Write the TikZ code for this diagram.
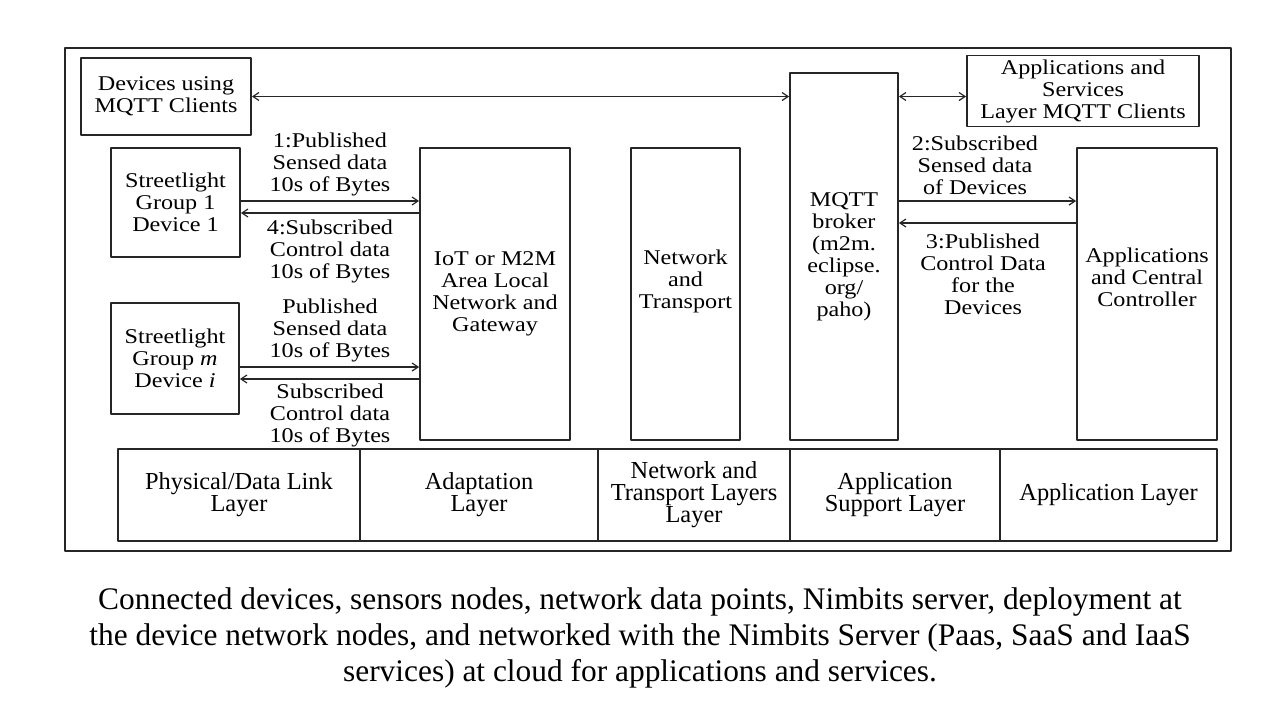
\documentclass[tikz,border=0pt]{standalone}
\usepackage{fontspec}
\setmainfont{Liberation Serif}
\newfontfamily\diagfont[FakeStretch=1.15]{Liberation Serif}
\usetikzlibrary{arrows.meta,positioning}
\tikzset{
  mq diagram/.style={x=0.5pt, y=-0.5pt, line cap=round, line join=round},
  mq box/.style={draw=black!85, line width=0.9pt, align=center, inner sep=2pt,
    font=\diagfont\fontsize{10.5}{11}\selectfont},
  mq text/.style={align=center, inner sep=1pt, font=\diagfont\fontsize{10.5}{11}\selectfont},
  mq layer/.style={draw=black!85, line width=0.9pt, align=center, minimum height=46pt,
    inner sep=2pt, font=\fontsize{12.2}{11}\selectfont},
  mq arrow/.style={-{Straight Barb[length=3pt,width=4pt]}, draw=black!85, line width=0.6pt},
  mq both/.style={mq arrow, {Straight Barb[length=3pt,width=4pt]}-{Straight Barb[length=3pt,width=4pt]}},
  mq caption/.style={align=center, font=\fontsize{15.7}{18}\selectfont}
}
\begin{document}
\begin{tikzpicture}[mq diagram]
\useasboundingbox (0,0) rectangle (1280,720);
\draw[draw=black!85, line width=0.9pt] (65,48) rectangle (1231,551);
% client boxes and the broker
\node[mq box, minimum width=85pt, minimum height=38.5pt] (devs) at (166,96.5) {Devices using\\MQTT Clients};
\node[mq box, minimum width=54pt, minimum height=183.5pt] (mqtt) at (844,256.5) {MQTT\\broker\\(m2m.\\eclipse.\\org/\\paho)};
\node[mq box, minimum width=116pt, minimum height=34pt] (asl) at (1083,91) {Applications and\\Services\\Layer MQTT Clients};
% streetlights and the path to the broker
\node[mq box, minimum width=64.5pt, minimum height=54.5pt] (sl1) at (175.5,202.5) {Streetlight\\Group 1\\Device 1};
\node[mq box, minimum width=64pt, minimum height=55.5pt] (slm) at (175,358.5) {Streetlight\\Group \textit{m}\\Device \textit{i}};
\node[mq box, minimum width=75pt, minimum height=146pt] (iot) at (495,294) {IoT or M2M\\Area Local\\Network and\\Gateway};
\node[mq box, minimum width=54.5pt, minimum height=146pt] (nat) at (685.5,294) {};
\node[mq text] (natT) at (685.5,281) {Network\\and\\Transport};
\node[mq box, minimum width=70pt, minimum height=146pt] (acc) at (1147,294) {};
\node[mq text] (accT) at (1147,277) {Applications\\and Central\\Controller};
% connectors
\draw[mq both] (devs.east) -- (devs.east -| mqtt.west);
\draw[mq both] (mqtt.east |- devs.east) -- (devs.east -| asl.west);
\path ([yshift=0.75pt]sl1.east) coordinate (pub1) ([yshift=-5.25pt]sl1.east) coordinate (sub1);
\path ([yshift=-4.25pt]slm.east) coordinate (pubm) ([yshift=-10.25pt]slm.east) coordinate (subm);
\draw[mq arrow] (pub1) -- (pub1 -| iot.west);
\draw[mq arrow] (sub1 -| iot.west) -- (sub1);
\draw[mq arrow] (pubm) -- (pubm -| iot.west);
\draw[mq arrow] (subm -| iot.west) -- (subm);
\path ([yshift=46.5pt]acc.west) coordinate (sub2) ([yshift=35.5pt]acc.west) coordinate (pub3);
\draw[mq arrow] (sub2 -| mqtt.east) -- (sub2);
\draw[mq arrow] (pub3) -- (pub3 -| mqtt.east);
% message labels
\node[mq text] (l1) at (330,164) {1:Published\\Sensed data\\10s of Bytes};
\node[mq text] (l4) at (330,251) {4:Subscribed\\Control data\\10s of Bytes};
\node[mq text] (lp) at (330,330) {Published\\Sensed data\\10s of Bytes};
\node[mq text] (ls) at (330,415) {Subscribed\\Control data\\10s of Bytes};
\node[mq text] (l2) at (975,165) {2:Subscribed\\Sensed data\\of Devices};
\node[mq text] (l3) at (983,274) {3:Published\\Control Data\\for the\\Devices};
% protocol layers
\node[mq layer, minimum width=121pt] (phy) at (239,495) {Physical/Data Link\\Layer};
\node[mq layer, minimum width=119pt] (adp) at (479,495) {Adaptation\\Layer};
\node[mq layer, minimum width=96pt] (ntl) at (694,495) {Network and\\Transport Layers\\Layer};
\node[mq layer, minimum width=105pt] (asup) at (895,495) {Application\\Support Layer};
\node[mq layer, minimum width=108.5pt] (app) at (1108.5,495) {Application Layer};
\node[mq caption] (cap) at (640,638) {Connected devices, sensors nodes, network data points, Nimbits server, deployment at\\the device network nodes, and networked with the Nimbits Server (Paas, SaaS and IaaS\\services) at cloud for applications and services.};
\end{tikzpicture}
\end{document}
